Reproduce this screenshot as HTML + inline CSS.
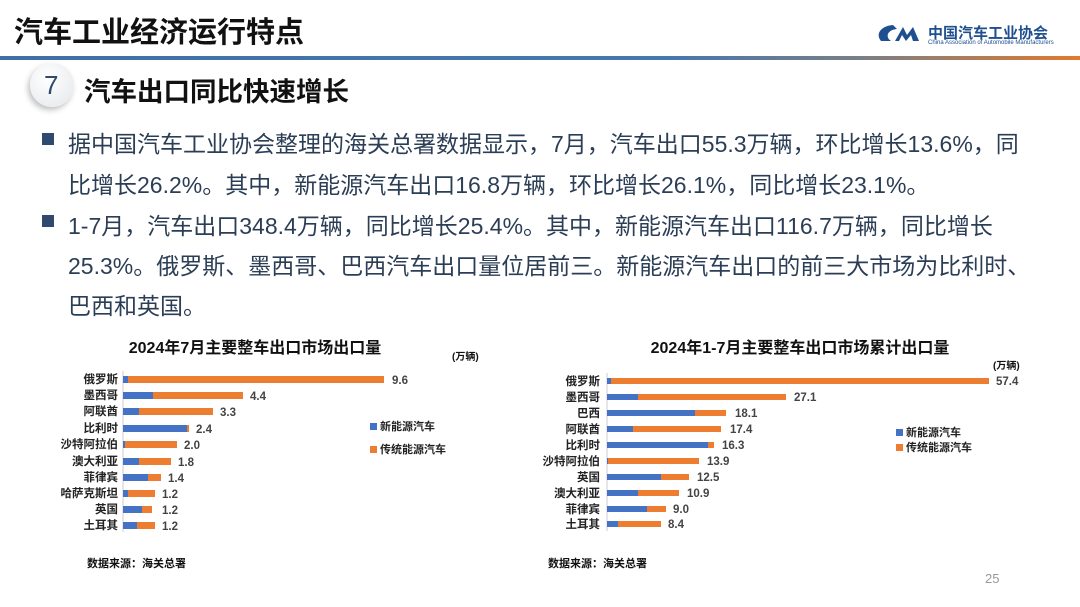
<!DOCTYPE html>
<html><head><meta charset="utf-8">
<style>
body{margin:0;width:1080px;height:607px;overflow:hidden;background:#fff;font-family:"Liberation Sans","Noto Sans CJK SC",sans-serif;position:relative}
.a{position:absolute;white-space:nowrap}
.t{font-size:23px;color:#2b3e55;left:68px}
.sq{position:absolute;left:42px;width:12px;height:12px;background:#2f4a6e}
</style></head><body>
<div class="a" style="left:14px;top:9px;font-size:29px;font-weight:bold;color:#111">汽车工业经济运行特点</div>
<div class="a" style="left:0;top:56px;width:1080px;height:4px;background:linear-gradient(90deg,#3f6fa6 0%,#4677ad 62%,#7a7f86 80%,#e07a2e 100%)"></div>
<svg class="a" style="left:875px;top:22px" width="55" height="24"><path d="M18 3 C6 4 0 12 6 19 L16 19 C10 15 12 8 22 7 Z" fill="#1f4f8f"/><path d="M20 19 L28 5 L32 13 L38 5 L44 19 L38 19 L36 13 L31 19 L27 13 L24 19 Z" fill="#1f4f8f"/></svg>
<div class="a" style="left:928px;top:22px;font-size:15px;font-weight:bold;color:#1f4f8f">中国汽车工业协会</div>
<div class="a" style="left:928px;top:40px;font-size:6px;color:#1f4f8f">China Association of Automobile Manufacturers</div>
<div class="a" style="left:30px;top:63px;width:44px;height:44px;border-radius:50%;background:radial-gradient(circle at 40% 35%,#fff,#e4e6ea);box-shadow:-2px 3px 6px rgba(0,0,0,.25)"></div>
<div class="a" style="left:44px;top:70px;font-size:26px;color:#2f4a6e">7</div>
<div class="a" style="left:84px;top:70px;font-size:26.5px;font-weight:bold;color:#111">汽车出口同比快速增长</div>
<div class="sq" style="top:133px"></div>
<div class="a t" style="top:125px">据中国汽车工业协会整理的海关总署数据显示，7月，汽车出口55.3万辆，环比增长13.6%，同</div>
<div class="a t" style="top:166px">比增长26.2%。其中，新能源汽车出口16.8万辆，环比增长26.1%，同比增长23.1%。</div>
<div class="sq" style="top:215px"></div>
<div class="a t" style="top:207px">1-7月，汽车出口348.4万辆，同比增长25.4%。其中，新能源汽车出口116.7万辆，同比增长</div>
<div class="a t" style="top:247px">25.3%。俄罗斯、墨西哥、巴西汽车出口量位居前三。新能源汽车出口的前三大市场为比利时、</div>
<div class="a t" style="top:287px">巴西和英国。</div>

<svg class="a" style="left:0;top:0" width="1080" height="607" font-family="Liberation Sans,Noto Sans CJK SC,sans-serif">
<g font-weight="bold" fill="#111">
<text x="255" y="353" font-size="16" text-anchor="middle">2024年7月主要整车出口市场出口量</text>
<text x="800" y="353" font-size="16" text-anchor="middle">2024年1-7月主要整车出口市场累计出口量</text>
<text x="452" y="360" font-size="10">(万辆)</text>
<text x="993" y="369" font-size="10">(万辆)</text>
<text x="87" y="567" font-size="11">数据来源：海关总署</text>
<text x="548" y="567" font-size="11">数据来源：海关总署</text>
</g>
<text x="985" y="583" font-size="13" fill="#999">25</text>
<line x1="123" y1="371" x2="123" y2="532" stroke="#ccc"/>
<line x1="607" y1="373" x2="607" y2="531" stroke="#ccc"/>
<rect x="370" y="423" width="7" height="7" fill="#4472c4"/><text x="380" y="430" font-size="11" font-weight="bold" fill="#222">新能源汽车</text>
<rect x="370" y="446" width="7" height="7" fill="#ed7d31"/><text x="380" y="453" font-size="11" font-weight="bold" fill="#222">传统能源汽车</text>
<rect x="896" y="429" width="7" height="7" fill="#4472c4"/><text x="906" y="436" font-size="11" font-weight="bold" fill="#222">新能源汽车</text>
<rect x="896" y="444" width="7" height="7" fill="#ed7d31"/><text x="906" y="451" font-size="11" font-weight="bold" fill="#222">传统能源汽车</text>
<g font-size="11.5" font-weight="bold">
<rect x="123" y="376" width="5" height="7" fill="#4472c4"/><rect x="128" y="376" width="256" height="7" fill="#ed7d31"/><text x="118" y="383" text-anchor="end" fill="#222">俄罗斯</text><text x="392" y="384" fill="#444">9.6</text>
<rect x="123" y="392" width="30" height="7" fill="#4472c4"/><rect x="153" y="392" width="90" height="7" fill="#ed7d31"/><text x="118" y="399" text-anchor="end" fill="#222">墨西哥</text><text x="250" y="400" fill="#444">4.4</text>
<rect x="123" y="408" width="16" height="7" fill="#4472c4"/><rect x="139" y="408" width="74" height="7" fill="#ed7d31"/><text x="118" y="415" text-anchor="end" fill="#222">阿联酋</text><text x="220" y="416" fill="#444">3.3</text>
<rect x="123" y="425" width="64" height="7" fill="#4472c4"/><rect x="187" y="425" width="2" height="7" fill="#ed7d31"/><text x="118" y="432" text-anchor="end" fill="#222">比利时</text><text x="196" y="433" fill="#444">2.4</text>
<rect x="123" y="441" width="2" height="7" fill="#4472c4"/><rect x="125" y="441" width="52" height="7" fill="#ed7d31"/><text x="118" y="448" text-anchor="end" fill="#222">沙特阿拉伯</text><text x="184" y="449" fill="#444">2.0</text>
<rect x="123" y="458" width="16" height="7" fill="#4472c4"/><rect x="139" y="458" width="32" height="7" fill="#ed7d31"/><text x="118" y="465" text-anchor="end" fill="#222">澳大利亚</text><text x="178" y="466" fill="#444">1.8</text>
<rect x="123" y="474" width="25" height="7" fill="#4472c4"/><rect x="148" y="474" width="13" height="7" fill="#ed7d31"/><text x="118" y="481" text-anchor="end" fill="#222">菲律宾</text><text x="168" y="482" fill="#444">1.4</text>
<rect x="123" y="490" width="5" height="7" fill="#4472c4"/><rect x="128" y="490" width="27" height="7" fill="#ed7d31"/><text x="118" y="497" text-anchor="end" fill="#222">哈萨克斯坦</text><text x="162" y="498" fill="#444">1.2</text>
<rect x="123" y="506" width="19" height="7" fill="#4472c4"/><rect x="142" y="506" width="10" height="7" fill="#ed7d31"/><text x="118" y="513" text-anchor="end" fill="#222">英国</text><text x="162" y="514" fill="#444">1.2</text>
<rect x="123" y="522" width="14" height="7" fill="#4472c4"/><rect x="137" y="522" width="18" height="7" fill="#ed7d31"/><text x="118" y="529" text-anchor="end" fill="#222">土耳其</text><text x="162" y="530" fill="#444">1.2</text>

<rect x="607" y="378" width="4" height="6" fill="#4472c4"/><rect x="611" y="378" width="378" height="6" fill="#ed7d31"/><text x="600" y="385" text-anchor="end" fill="#222">俄罗斯</text><text x="996" y="385" fill="#444">57.4</text>
<rect x="607" y="394" width="31" height="6" fill="#4472c4"/><rect x="638" y="394" width="148" height="6" fill="#ed7d31"/><text x="600" y="401" text-anchor="end" fill="#222">墨西哥</text><text x="794" y="401" fill="#444">27.1</text>
<rect x="607" y="410" width="88" height="6" fill="#4472c4"/><rect x="695" y="410" width="31" height="6" fill="#ed7d31"/><text x="600" y="417" text-anchor="end" fill="#222">巴西</text><text x="735" y="417" fill="#444">18.1</text>
<rect x="607" y="426" width="26" height="6" fill="#4472c4"/><rect x="633" y="426" width="88" height="6" fill="#ed7d31"/><text x="600" y="433" text-anchor="end" fill="#222">阿联酋</text><text x="730" y="433" fill="#444">17.4</text>
<rect x="607" y="442" width="101" height="6" fill="#4472c4"/><rect x="708" y="442" width="6" height="6" fill="#ed7d31"/><text x="600" y="449" text-anchor="end" fill="#222">比利时</text><text x="722" y="449" fill="#444">16.3</text>
<rect x="607" y="458" width="1" height="6" fill="#4472c4"/><rect x="608" y="458" width="91" height="6" fill="#ed7d31"/><text x="600" y="465" text-anchor="end" fill="#222">沙特阿拉伯</text><text x="707" y="465" fill="#444">13.9</text>
<rect x="607" y="474" width="54" height="6" fill="#4472c4"/><rect x="661" y="474" width="28" height="6" fill="#ed7d31"/><text x="600" y="481" text-anchor="end" fill="#222">英国</text><text x="697" y="481" fill="#444">12.5</text>
<rect x="607" y="490" width="31" height="6" fill="#4472c4"/><rect x="638" y="490" width="41" height="6" fill="#ed7d31"/><text x="600" y="497" text-anchor="end" fill="#222">澳大利亚</text><text x="687" y="497" fill="#444">10.9</text>
<rect x="607" y="506" width="40" height="6" fill="#4472c4"/><rect x="647" y="506" width="19" height="6" fill="#ed7d31"/><text x="600" y="513" text-anchor="end" fill="#222">菲律宾</text><text x="673" y="513" fill="#444">9.0</text>
<rect x="607" y="521" width="11" height="6" fill="#4472c4"/><rect x="618" y="521" width="43" height="6" fill="#ed7d31"/><text x="600" y="528" text-anchor="end" fill="#222">土耳其</text><text x="668" y="528" fill="#444">8.4</text>
</g>
</svg>
</body></html>
